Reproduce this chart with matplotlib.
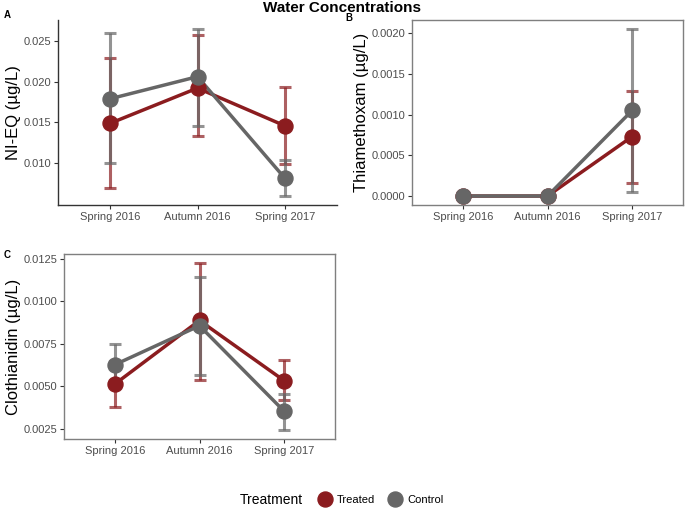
import matplotlib.pyplot as plt
from matplotlib.lines import Line2D

plt.rcParams["font.family"] = ["Liberation Sans", "DejaVu Sans"]

seasons = ["Spring 2016", "Autumn 2016", "Spring 2017"]

# panel A: NI-EQ
nieq_treated = [0.0149, 0.0192, 0.0146]
nieq_treated_lo = [0.0070, 0.0133, 0.0099]
nieq_treated_hi = [0.0229, 0.0257, 0.0193]
nieq_control = [0.0179, 0.0206, 0.0082]
nieq_control_lo = [0.0100, 0.0146, 0.0060]
nieq_control_hi = [0.0260, 0.0264, 0.0104]

# panel B: thiamethoxam
thx_treated = [0.0, 0.0, 0.00073]
thx_treated_lo = [0.0, 0.0, 0.000164]
thx_treated_hi = [0.0, 0.0, 0.00129]
thx_control = [0.0, 0.0, 0.00105]
thx_control_lo = [0.0, 0.0, 0.000053]
thx_control_hi = [0.0, 0.0, 0.00205]

# panel C: clothianidin
clo_treated = [0.00514, 0.00888, 0.00534]
clo_treated_lo = [0.00379, 0.00540, 0.00422]
clo_treated_hi = [0.00650, 0.01225, 0.00654]
clo_control = [0.00628, 0.00857, 0.00354]
clo_control_lo = [0.00510, 0.00569, 0.00242]
clo_control_hi = [0.00750, 0.01142, 0.00457]

RED = "#8b1c1f"
GREY = "#666666"
W, H = 685, 508


def px_axes(fig, left, top, right, bottom):
    return fig.add_axes([left / W, 1 - bottom / H, (right - left) / W, (bottom - top) / H])


def draw_panel(ax, series, ylabel, ylim, yticks, fmt, boxed):
    x = list(range(len(seasons)))
    for mean, lo, hi, col in series:
        err = [[m - l for m, l in zip(mean, lo)], [h - m for m, h in zip(mean, hi)]]
        ax.errorbar(x, mean, yerr=err, fmt="none", ecolor=col, elinewidth=2.2,
                    capsize=4.6, capthick=2.2, alpha=0.7, zorder=2)
    for mean, lo, hi, col in series:
        ax.plot(x, mean, color=col, lw=2.5, zorder=3)
        ax.plot(x, mean, "o", color=col, ms=10.8, zorder=4)
    ax.set_xlim(-0.6, 2.6)
    ax.set_ylim(*ylim)
    ax.set_xticks(x)
    ax.set_xticklabels(seasons)
    ax.set_yticks(yticks)
    ax.set_yticklabels([fmt.format(v) for v in yticks])
    ax.set_ylabel(ylabel, fontsize=12, labelpad=1.5)
    ax.tick_params(labelsize=8, labelcolor="#4d4d4d", color="#333333", length=3, width=0.8, pad=2)
    for s in ["top", "right", "left", "bottom"]:
        ax.spines[s].set_color("#7f7f7f" if boxed else "#333333")
        ax.spines[s].set_linewidth(1.0)
    if not boxed:
        ax.spines["top"].set_visible(False)
        ax.spines["right"].set_visible(False)
    ax.set_facecolor("white")


fig = plt.figure(figsize=(W / 100, H / 100), dpi=100)

axA = px_axes(fig, 58, 20, 337, 205)
draw_panel(axA,
           [(nieq_treated, nieq_treated_lo, nieq_treated_hi, RED),
            (nieq_control, nieq_control_lo, nieq_control_hi, GREY)],
           "NI-EQ (µg/L)", (0.0049, 0.02753), [0.010, 0.015, 0.020, 0.025], "{:.3f}", False)

axB = px_axes(fig, 412, 20, 683, 205)
draw_panel(axB,
           [(thx_treated, thx_treated_lo, thx_treated_hi, RED),
            (thx_control, thx_control_lo, thx_control_hi, GREY)],
           "Thiamethoxam (µg/L)", (-0.00011, 0.00216), [0.0, 0.0005, 0.0010, 0.0015, 0.0020], "{:.4f}", True)

axC = px_axes(fig, 64, 254, 335, 439)
draw_panel(axC,
           [(clo_treated, clo_treated_lo, clo_treated_hi, RED),
            (clo_control, clo_control_lo, clo_control_hi, GREY)],
           "Clothianidin (µg/L)", (0.00191, 0.01279), [0.0025, 0.0050, 0.0075, 0.0100, 0.0125], "{:.4f}", True)

fig.text(342 / W, 1 - 11.5 / H, "Water Concentrations", ha="center", va="baseline",
         fontsize=11, fontweight="bold")
fig.text(4 / W, 1 - 15 / H, "A", fontsize=7, fontweight="bold", va="center")
fig.text(345 / W, 1 - 18 / H, "B", fontsize=7, fontweight="bold", va="center")
fig.text(4 / W, 1 - 255 / H, "C", fontsize=7, fontweight="bold", va="center")

# legend
fig.text(240 / W, 1 - 500 / H, "Treatment", fontsize=10, va="center")
handles = [Line2D([], [], ls="none", marker="o", ms=10.8, color=RED),
           Line2D([], [], ls="none", marker="o", ms=10.8, color=GREY)]
fig.legend(handles, ["Treated", "Control"], ncol=2, loc="center left",
           bbox_to_anchor=(308 / W, 1 - 500 / H), frameon=False, fontsize=8,
           handlelength=1.2, handletextpad=0.5, columnspacing=1.2)

fig.savefig("out.png", dpi=100)
